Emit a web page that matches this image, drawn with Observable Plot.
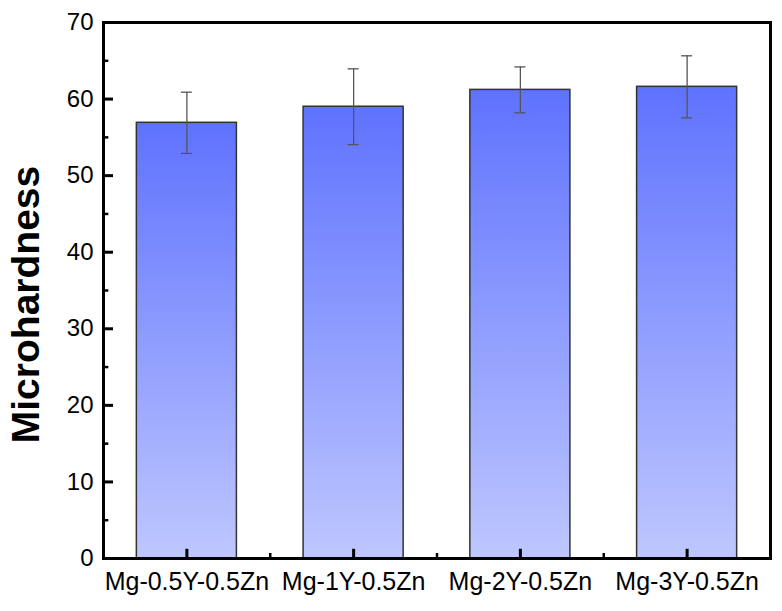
<!DOCTYPE html>
<html>
<head>
<meta charset="utf-8">
<script src="https://cdn.jsdelivr.net/npm/d3@7"></script>
<script src="https://cdn.jsdelivr.net/npm/@observablehq/plot@0.6"></script>
<style>
  html, body { margin: 0; padding: 0; background: #fff; }
  #chart svg { display: block; font-family: "Liberation Sans", Arial, sans-serif; }
</style>
</head>
<body>
<div id="chart"></div>
<script>
const categories = ["Mg-0.5Y-0.5Zn", "Mg-1Y-0.5Zn", "Mg-2Y-0.5Zn", "Mg-3Y-0.5Zn"];
const hardness = [56.9, 59.0, 61.2, 61.6];
const errors = [4.0, 4.95, 3.0, 4.05];
const yMajorTicks = [0, 10, 20, 30, 40, 50, 60, 70];
const yMinorTicks = [5, 15, 25, 35, 45, 55, 65];

const data = categories.map((c, i) => ({
  pos: i + 1, name: c, value: hardness[i], err: errors[i]
}));
const halfBar = 0.3;
const capHalf = 0.033;
const x0 = 0.5, x1 = categories.length + 0.5;
const xMinorTicks = d3.range(1.5, categories.length, 1);
// tick lengths in data units (x: ~167px per unit, y: ~7.66px per unit)
const yTickMajor = 0.06, yTickMinor = 0.032;
const xTickMajor = 1.2, xTickMinor = 0.65;

const plot = Plot.plot({
  width: 782,
  height: 611,
  marginLeft: 103,
  marginRight: 12,
  marginTop: 22,
  marginBottom: 53,
  x: { domain: [x0, x1] },
  y: { domain: [0, 70] },
  marks: [
    Plot.rectY(data, {
      x1: d => d.pos - halfBar, x2: d => d.pos + halfBar, y1: 0, y2: "value",
      fill: "url(#barGrad)", stroke: "#333", strokeWidth: 1.5
    }),
    Plot.ruleX(data, { x: "pos", y1: d => d.value - d.err, y2: d => d.value + d.err, stroke: "#555", strokeWidth: 1.3 }),
    Plot.ruleY(data, { x1: d => d.pos - capHalf, x2: d => d.pos + capHalf, y: d => d.value + d.err, stroke: "#555", strokeWidth: 1.3 }),
    Plot.ruleY(data, { x1: d => d.pos - capHalf, x2: d => d.pos + capHalf, y: d => d.value - d.err, stroke: "#555", strokeWidth: 1.3 }),
    // inward ticks
    Plot.ruleY(yMajorTicks, { y: d => d, x1: x0, x2: x0 + yTickMajor, stroke: "black", strokeWidth: 3 }),
    Plot.ruleY(yMinorTicks, { y: d => d, x1: x0, x2: x0 + yTickMinor, stroke: "black", strokeWidth: 2.5 }),
    Plot.ruleX(data, { x: "pos", y1: 0, y2: xTickMajor, stroke: "black", strokeWidth: 3 }),
    Plot.ruleX(xMinorTicks, { x: d => d, y1: 0, y2: xTickMinor, stroke: "black", strokeWidth: 2.5 }),
    // labels
    Plot.axisY({ ticks: yMajorTicks, tickSize: 0, tickPadding: 10, fontSize: 24, fill: "black", label: null }),
    Plot.axisX({ ticks: data.map(d => d.pos), tickFormat: p => categories[p - 1], tickSize: 0, tickPadding: 14, fontSize: 25, fill: "black", label: null }),
    Plot.frame({ stroke: "black", strokeWidth: 3 }),
    Plot.text(["Microhardness"], {
      frameAnchor: "left", text: d => d, rotate: -90, dx: -77, dy: 14,
      textAnchor: "middle", lineAnchor: "middle",
      fontSize: 39, fontWeight: "bold", fill: "black"
    })
  ]
});

d3.select(plot).insert("defs", ":first-child").html(
  `<linearGradient id="barGrad" x1="0" y1="0" x2="0" y2="1">
     <stop offset="0%" stop-color="#5f72fe"/>
     <stop offset="100%" stop-color="#bec7fe"/>
   </linearGradient>`
);

document.getElementById("chart").appendChild(plot);
</script>
</body>
</html>
